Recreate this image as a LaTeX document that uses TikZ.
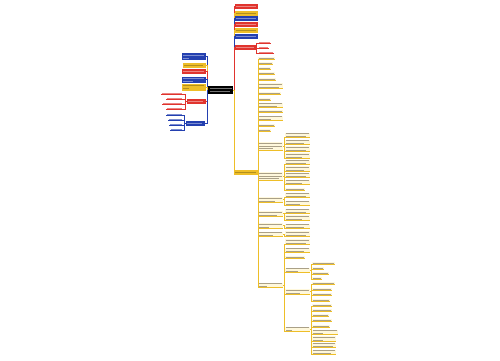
\documentclass[tikz,border=0pt]{standalone}
\usetikzlibrary{positioning}
\definecolor{mapred}{RGB}{224,52,46}
\definecolor{mapyellow}{RGB}{238,190,40}
\definecolor{mapblue}{RGB}{36,64,176}
\definecolor{mapfill}{RGB}{255,248,220}
\definecolor{maptext}{RGB}{170,160,135}
\newcommand{\one}[1]{\rule{#1pt}{0.45pt}}
\newcommand{\two}[2]{\rule{#1pt}{0.45pt}\\\rule{#2pt}{0.45pt}}
\newcommand{\three}[3]{\rule{#1pt}{0.45pt}\\\rule{#2pt}{0.45pt}\\\rule{#3pt}{0.45pt}}

\begin{document}
\begin{tikzpicture}[x=1pt, y=-1pt,
    box/.style={inner sep=0.8pt, font=\fontsize{2}{2.6}\selectfont, align=left, anchor=west},
    root/.style={box, anchor=center, fill=black, text=white!45!black, minimum width=25, minimum height=8.5},
    rbox/.style={box, fill=mapred, draw=mapred, text=white!40!mapred, minimum width=22, minimum height=3.8},
    ybox/.style={box, fill=mapyellow, draw=mapyellow, text=black!25!mapyellow, minimum width=22, minimum height=3.8},
    bbox/.style={box, fill=mapblue, draw=mapblue, text=white!40!mapblue, minimum width=22, minimum height=3.8},
    rleaf/.style={box, anchor=east, text=mapred!60},
    bleaf/.style={box, anchor=east, text=mapblue!60},
    yleaf/.style={box, fill=mapfill, text=maptext},
    rline/.style={draw=mapred, line width=0.5pt},
    yline/.style={draw=mapyellow, line width=0.5pt},
    bline/.style={draw=mapblue, line width=0.5pt}
  ]
  \useasboundingbox[fill=white] (0,0) rectangle (500,360);

  % centre
  \node[root] (root) at (220.5,90) {\two{22}{20}};

  % left side
  \node[bbox, anchor=east, minimum height=6] (l1) at (205,56.5) {\two{21}{6}};
  \node[ybox, anchor=east] (l2) at (205,65) {\one{19}};
  \node[rbox, anchor=east] (l3) at (205,71) {\one{21}};
  \node[bbox, anchor=east, minimum height=5] (l4) at (205,79.5) {\two{21}{10}};
  \node[ybox, anchor=east, minimum height=6] (l5) at (205,87) {\two{21}{6}};
  \node[rbox, anchor=east, minimum width=18] (l6) at (205,101.5) {\one{15}};
  \node[bbox, anchor=east, minimum width=18] (l7) at (204,123) {\one{15}};

  \node[rleaf] (m1) at (183,93.5) {\one{20}};
  \node[rleaf] (m2) at (183,98.5) {\one{15}};
  \node[rleaf] (m3) at (183,103.5) {\one{19}};
  \node[rleaf] (m4) at (183,108.5) {\one{15}};
  \node[bleaf] (n1) at (183,114.5) {\one{15}};
  \node[bleaf] (n2) at (183,119.5) {\one{13}};
  \node[bleaf] (n3) at (183,124.5) {\one{12}};
  \node[bleaf] (n4) at (183,129.5) {\one{11}};

  \draw[bline] (root.west) -- ++(-1,0) |- (l1.east);
  \draw[yline] (root.west) -- ++(-1,0) |- (l2.east);
  \draw[rline] (root.west) -- ++(-1,0) |- (l3.east);
  \draw[bline] (root.west) -- ++(-1,0) |- (l4.east);
  \draw[yline] (root.west) -- ++(-1,0) |- (l5.east);
  \draw[rline] (root.west) -- ++(-1,0) |- (l6.east);
  \draw[bline] (root.west) -- ++(-1,0) |- (l7.east);
  \foreach \i in {1,...,4} {
    \draw[rline] (l6.west) -- ++(-1,0) |- (m\i.south east) -- (m\i.south west);
    \draw[bline] (l7.west) -- ++(-1,0) |- (n\i.south east) -- (n\i.south west);
  }

  % right side
  \node[rbox] (r1) at (235,6.5) {\one{20}};
  \node[ybox] (r2) at (235,13) {\one{20}};
  \node[bbox] (r3) at (235,18.5) {\one{20}};
  \node[rbox] (r4) at (235,24.5) {\one{20}};
  \node[ybox] (r5) at (235,30.5) {\one{20}};
  \node[bbox] (r6) at (235,36.5) {\one{20}};
  \node[rbox, minimum width=20] (r7) at (235,47.5) {\one{18}};
  \node[ybox, minimum width=23] (r8) at (234,172) {\one{21}};

  \node[rleaf, anchor=west] (s1) at (258,42.5) {\one{11}};
  \node[rleaf, anchor=west] (s2) at (258,47.5) {\one{9}};
  \node[rleaf, anchor=west] (s3) at (258,52.5) {\one{14}};

  \draw[rline] (root.east) -- ++(1,0) |- (r1.west);
  \draw[yline] (root.east) -- ++(1,0) |- (r2.west);
  \draw[bline] (root.east) -- ++(1,0) |- (r3.west);
  \draw[rline] (root.east) -- ++(1,0) |- (r4.west);
  \draw[yline] (root.east) -- ++(1,0) |- (r5.west);
  \draw[bline] (root.east) -- ++(1,0) |- (r6.west);
  \draw[rline] (root.east) -- ++(1,0) |- (r7.west);
  \draw[yline] (root.east) -- ++(1,0) |- (r8.west);
  \foreach \i in {1,...,3}
    \draw[rline] (r7.east) -- ++(1,0) |- (s\i.south west) -- (s\i.south east);

  % yellow branch, first level
  \node[yleaf] (y1) at (258,58) {\one{15}};
  \node[yleaf] (y2) at (258,63) {\one{13}};
  \node[yleaf] (y3) at (258,68) {\one{11}};
  \node[yleaf] (y4) at (258,73.5) {\one{15}};
  \node[yleaf] (y5) at (258,79) {\one{16}};
  \node[yleaf] (y6) at (258,85.5) {\two{23}{20}};
  \node[yleaf] (y7) at (258,93.5) {\one{21}};
  \node[yleaf] (y8) at (258,99) {\one{11}};
  \node[yleaf] (y9) at (258,105) {\two{23}{18}};
  \node[yleaf] (y10) at (258,111) {\one{23}};
  \node[yleaf] (y11) at (258,118) {\two{23}{12}};
  \node[yleaf] (y12) at (258,125) {\one{15}};
  \node[yleaf] (y13) at (258,130) {\one{11}};
  \node[yleaf] (y14) at (258,146) {\three{23}{23}{14}};
  \node[yleaf] (y15) at (258,176) {\three{23}{23}{20}};
  \node[yleaf] (y16) at (258,199.5) {\two{23}{16}};
  \node[yleaf] (y17) at (258,213.5) {\two{23}{18}};
  \node[yleaf] (y18) at (258,225.5) {\two{23}{10}};
  \node[yleaf] (y19) at (258,234) {\two{23}{14}};
  \node[yleaf] (y20) at (258,285) {\two{23}{8}};
  \foreach \i in {1,...,20}
    \draw[yline] (r8.east) -- ++(0.5,0) |- (y\i.south west) -- (y\i.south east);

  % yellow branch, second level
  \node[yleaf] (a1) at (285,135) {\two{23}{20}};
  \node[yleaf] (a2) at (285,142) {\two{23}{18}};
  \node[yleaf] (a3) at (285,148.5) {\two{23}{20}};
  \node[yleaf] (a4) at (285,155.5) {\two{23}{16}};
  \node[yleaf] (b1) at (285,162) {\two{23}{20}};
  \node[yleaf] (b2) at (285,168.5) {\two{23}{18}};
  \node[yleaf] (b3) at (285,175) {\two{23}{20}};
  \node[yleaf] (b4) at (285,182) {\two{23}{16}};
  \node[yleaf] (b5) at (285,189) {\one{18}};
  \node[yleaf] (c1) at (285,195) {\two{23}{20}};
  \node[yleaf] (c2) at (285,203) {\two{23}{14}};
  \node[yleaf] (d1) at (285,211) {\two{23}{20}};
  \node[yleaf] (d2) at (285,217.5) {\two{23}{16}};
  \node[yleaf] (e1) at (285,226) {\two{23}{18}};
  \node[yleaf] (f1) at (285,233.5) {\two{23}{20}};
  \node[yleaf] (g1) at (285,241.5) {\two{23}{20}};
  \node[yleaf] (g2) at (285,250) {\two{23}{18}};
  \node[yleaf] (g3) at (285,257) {\one{18}};
  \node[yleaf] (g4) at (285,270) {\two{23}{12}};
  \node[yleaf] (g5) at (285,291.5) {\two{23}{14}};
  \node[yleaf] (g6) at (285,329) {\two{23}{6}};
  \foreach \i in {1,...,4}
    \draw[yline] (y14.east) -- ++(1,0) |- (a\i.south west) -- (a\i.south east);
  \foreach \i in {1,...,5}
    \draw[yline] (y15.east) -- ++(1,0) |- (b\i.south west) -- (b\i.south east);
  \foreach \i in {1,2} {
    \draw[yline] (y16.east) -- ++(1,0) |- (c\i.south west) -- (c\i.south east);
    \draw[yline] (y17.east) -- ++(1,0) |- (d\i.south west) -- (d\i.south east);
  }
  \draw[yline] (y18.east) -- ++(1,0) |- (e1.south west) -- (e1.south east);
  \draw[yline] (y19.east) -- ++(1,0) |- (f1.south west) -- (f1.south east);
  \foreach \i in {1,...,6}
    \draw[yline] (y20.east) -- ++(1,0) |- (g\i.south west) -- (g\i.south east);

  % yellow branch, third level
  \node[yleaf] (h1) at (312,263) {\one{21}};
  \node[yleaf] (h2) at (312,268) {\one{10}};
  \node[yleaf] (h3) at (312,273) {\one{15}};
  \node[yleaf] (h4) at (312,278) {\one{8}};
  \node[yleaf] (i1) at (312,283.5) {\one{21}};
  \node[yleaf] (i2) at (312,289) {\one{18}};
  \node[yleaf] (i3) at (312,294.5) {\one{18}};
  \node[yleaf] (i4) at (312,300) {\one{16}};
  \node[yleaf] (j1) at (312,305) {\one{18}};
  \node[yleaf] (j2) at (312,310) {\one{18}};
  \node[yleaf] (j3) at (312,315) {\one{15}};
  \node[yleaf] (j4) at (312,320.5) {\one{18}};
  \node[yleaf] (j5) at (312,326) {\one{16}};
  \node[yleaf] (j6) at (312,332) {\two{24}{10}};
  \node[yleaf] (j7) at (312,338.5) {\two{22}{10}};
  \node[yleaf] (j8) at (312,345) {\two{22}{20}};
  \node[yleaf] (j9) at (312,352) {\two{22}{18}};
  \foreach \i in {1,...,4} {
    \draw[yline] (g4.east) -- ++(1,0) |- (h\i.south west) -- (h\i.south east);
    \draw[yline] (g5.east) -- ++(1,0) |- (i\i.south west) -- (i\i.south east);
  }
  \foreach \i in {1,...,9}
    \draw[yline] (g6.east) -- ++(1,0) |- (j\i.south west) -- (j\i.south east);
\end{tikzpicture}
\end{document}
